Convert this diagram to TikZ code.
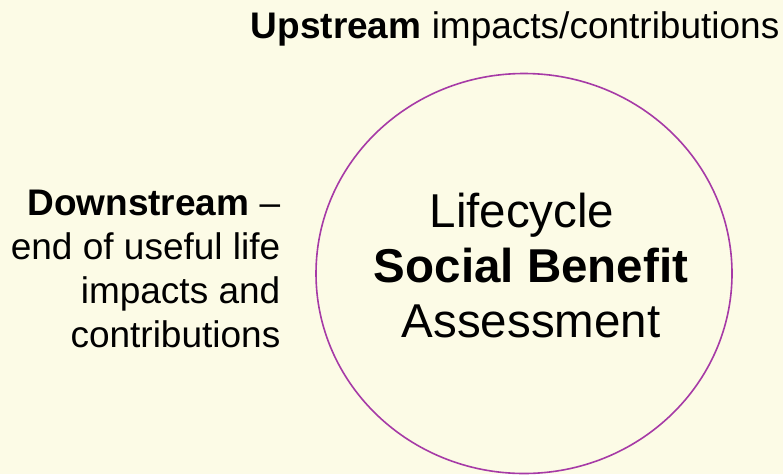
\documentclass[tikz,border=0pt]{standalone}
\usepackage{fontspec}
\setmainfont{Liberation Sans}
\definecolor{bgyellow}{HTML}{FCFBE6}
\definecolor{ringpurple}{HTML}{A63AA6}
\begin{document}
\begin{tikzpicture}[x=1pt,y=-1pt,
  sidetext/.style={inner sep=0pt,font=\fontsize{37}{44}\selectfont,text=black},
  centertext/.style={inner sep=0pt,font=\fontsize{47.5}{55}\selectfont,align=center,text=black}]
\fill[bgyellow] (0,0) rectangle (783,474);
\useasboundingbox (0,0) rectangle (783,474);
\draw[ringpurple,line width=1.6pt] (524,273.5) ellipse [x radius=208pt, y radius=200pt];
\node[sidetext,anchor=base east] (up) at (779.5,38) {\textbf{Upstream} impacts/contributions};
\node[sidetext,anchor=base east,align=right] (down) at (280.5,347) {\textbf{Downstream} –\\end of useful life\\impacts and\\contributions};
\node[centertext,anchor=base] (lsba) at (531,337) {Lifecycle\hspace*{18pt}\\\textbf{Social Benefit}\\Assessment};
\end{tikzpicture}
\end{document}
